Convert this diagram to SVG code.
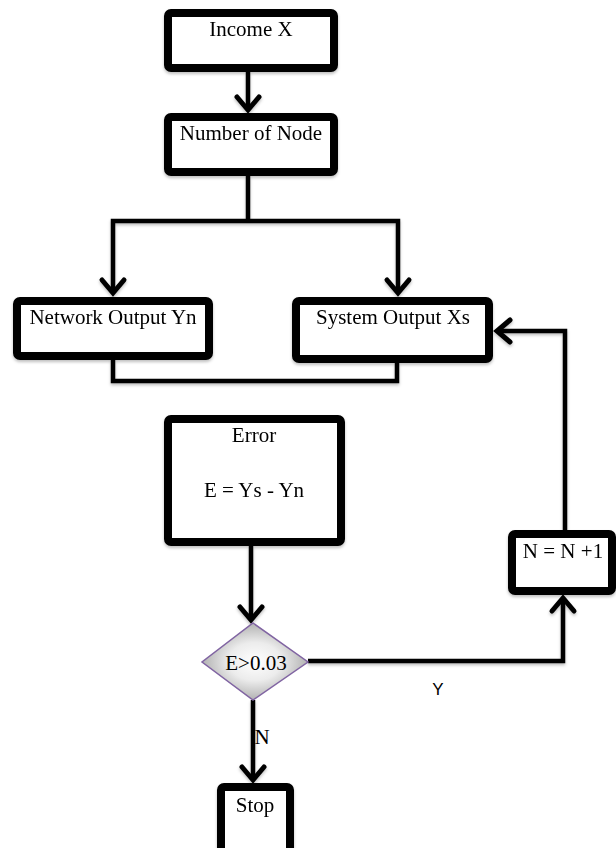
<svg xmlns="http://www.w3.org/2000/svg" width="616" height="848" viewBox="0 0 616 848">
<style>
.box{fill:#fff;stroke:#000;stroke-width:8;stroke-linejoin:round}
.lbl{font-family:"Liberation Serif","Times New Roman",serif;font-size:21px;fill:#000;text-anchor:middle}
.con{fill:none;stroke:#000;stroke-width:4.5;stroke-linejoin:miter}
</style>
<defs>
<marker id="arr" markerUnits="userSpaceOnUse" markerWidth="34" markerHeight="34" viewBox="-17 -17 34 34" refX="0" refY="0" orient="auto">
<path d="M-13,-11 L0,0 L-13,11" fill="none" stroke="#000" stroke-width="5" stroke-linecap="round" stroke-linejoin="miter"/>
</marker>
<radialGradient id="dg" cx="50%" cy="50%" r="55%">
<stop offset="0" stop-color="#ffffff"/>
<stop offset="0.45" stop-color="#ececec"/>
<stop offset="1" stop-color="#a6a6a6"/>
</radialGradient>
<filter id="sh" x="-10%" y="-10%" width="120%" height="130%">
<feDropShadow dx="0" dy="2" stdDeviation="1.5" flood-color="#000" flood-opacity="0.25"/>
</filter>
</defs>
<g id="connectors" filter="url(#sh)">
<path class="con" d="M248,72 V110" marker-end="url(#arr)"/>
<path class="con" d="M248,176 V221"/>
<path class="con" d="M248,221 H113 V293" marker-end="url(#arr)"/>
<path class="con" d="M248,221 H398 V293" marker-end="url(#arr)"/>
<path class="con" d="M113,360 V381 H397 V363"/>
<path class="con" d="M251,546 V620" marker-end="url(#arr)"/>
<path class="con" d="M308,661 H563 V598" marker-end="url(#arr)"/>
<path class="con" d="M565,530 V331 H497" marker-end="url(#arr)"/>
<path class="con" d="M253,700 V780" marker-end="url(#arr)"/>
</g>
<g id="income" filter="url(#sh)">
<rect class="box" x="168" y="13" width="166" height="55" rx="3"/>
<text class="lbl" x="251" y="36">Income X</text>
</g>
<g id="numnode" filter="url(#sh)">
<rect class="box" x="168" y="117" width="166" height="55" rx="3"/>
<text class="lbl" x="251" y="140">Number of Node</text>
</g>
<g id="network" filter="url(#sh)">
<rect class="box" x="17" y="301" width="192" height="55" rx="3"/>
<text class="lbl" x="113" y="324">Network Output Yn</text>
</g>
<g id="system" filter="url(#sh)">
<rect class="box" x="296" y="301" width="193" height="58" rx="3"/>
<text class="lbl" x="393" y="324">System Output Xs</text>
</g>
<g id="error" filter="url(#sh)">
<rect class="box" x="168" y="419" width="173" height="123" rx="3"/>
<text class="lbl" x="254" y="442">Error</text>
<text class="lbl" x="254" y="497">E = Ys - Yn</text>
</g>
<g id="decision">
<polygon points="253,623 308,662 253,700 202,662" fill="url(#dg)" stroke="#8064a2" stroke-width="1.5"/>
<text class="lbl" x="256" y="670">E&gt;0.03</text>
</g>
<g id="increment" filter="url(#sh)">
<rect class="box" x="512" y="534" width="100" height="57" rx="3"/>
<text class="lbl" x="563" y="558">N = N +1</text>
</g>
<g id="stop" filter="url(#sh)">
<rect class="box" x="221" y="787" width="69" height="66" rx="3"/>
<text class="lbl" x="255" y="812">Stop</text>
</g>
<g id="labels">
<text x="438" y="695" style="font-family:'Liberation Sans',Arial,sans-serif;font-size:17px;text-anchor:middle">Y</text>
<text class="lbl" x="262" y="744">N</text>
</g>
</svg>
